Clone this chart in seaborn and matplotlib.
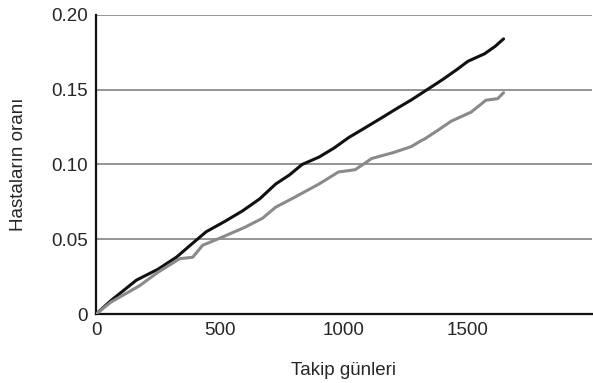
import seaborn as sns
import matplotlib.pyplot as plt
import pandas as pd

# Değerler (yaklaşık)
gun_siyah = [0, 60, 163, 250, 324, 380, 444, 520, 591, 660, 725, 780, 831, 900, 960, 1019,
             1080, 1150, 1219, 1270, 1326, 1400, 1460, 1500, 1567, 1610, 1644]
oran_siyah = [0.0, 0.009, 0.0227, 0.030, 0.038, 0.046, 0.055, 0.062, 0.069, 0.077, 0.087, 0.093,
              0.100, 0.105, 0.111, 0.118, 0.124, 0.131, 0.138, 0.143, 0.149, 0.157, 0.164, 0.169,
              0.174, 0.179, 0.184]

gun_gri = [0, 60, 176, 250, 337, 390, 430, 510, 600, 671, 725, 800, 900, 978, 1045, 1112,
           1200, 1272, 1312, 1325, 1380, 1433, 1513, 1573, 1620, 1644]
oran_gri = [0.0, 0.008, 0.019, 0.028, 0.037, 0.038, 0.046, 0.0515, 0.058, 0.064, 0.0715, 0.078,
            0.087, 0.095, 0.0965, 0.104, 0.108, 0.112, 0.116, 0.117, 0.123, 0.129, 0.135, 0.143,
            0.144, 0.148]

df = pd.concat([
    pd.DataFrame({"gun": gun_siyah, "oran": oran_siyah, "grup": "A"}),
    pd.DataFrame({"gun": gun_gri, "oran": oran_gri, "grup": "B"}),
])

sns.set_style("white")
plt.rcParams['font.family'] = ['Liberation Sans', 'DejaVu Sans']

fig = plt.figure(figsize=(5.93, 3.83), dpi=100)
ax = fig.add_axes([0.162, 0.180, 0.836, 0.781])

for y in [0.05, 0.10, 0.15, 0.20]:
    ax.axhline(y, color="#8c8c8c", lw=1.3, zorder=1)

sns.lineplot(data=df, x="gun", y="oran", hue="grup", palette={"A": "#111111", "B": "#8a8a8a"},
             linewidth=2.2, legend=False, ax=ax, zorder=3)

ax.set_xlim(0, 2000)
ax.set_ylim(0, 0.20)
ax.set_xticks([0, 500, 1000, 1500])
ax.set_xticklabels(["0", "500", "1000", "1500"])
ax.set_yticks([0, 0.05, 0.10, 0.15, 0.20])
ax.set_yticklabels(["0", "0.05", "0.10", "0.15", "0.20"])
ax.tick_params(axis="both", labelsize=13.5, length=3, width=1, color="#555555", direction="out", pad=3)

for s in ["top", "right"]:
    ax.spines[s].set_visible(False)
for s in ["left", "bottom"]:
    ax.spines[s].set_color("#111111")
    ax.spines[s].set_linewidth(1.6)

ax.set_xlabel("Takip günleri", fontsize=13.5, labelpad=16)
ax.set_ylabel("Hastaların oranı", fontsize=13.5, labelpad=17)

fig.savefig("out.png", dpi=100)
